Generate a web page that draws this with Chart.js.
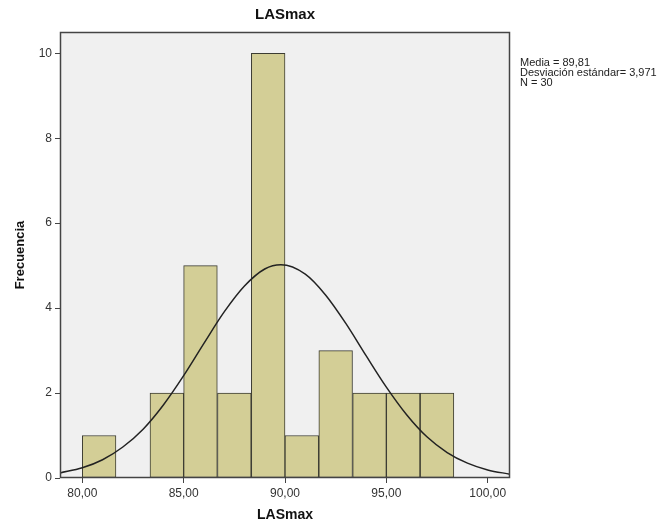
<!DOCTYPE html>
<html>
<head>
<meta charset="utf-8">
<script src="https://cdn.jsdelivr.net/npm/chart.js@4"></script>
<style>
  html, body { margin: 0; padding: 0; background: #fff; }
  #wrap { width: 663px; height: 527px; }
</style>
</head>
<body>
<div id="wrap"><canvas id="myChart" width="663" height="527"></canvas></div>
<script>
// bin centers (width 5/3) and counts
var binCenters = [80.83, 82.50, 84.17, 85.83, 87.50, 89.17, 90.83, 92.50, 94.17, 95.83, 97.50];
var binCounts = [1, 0, 2, 5, 2, 10, 1, 3, 2, 2, 2];

// normal curve
var curveX = [78.9, 80, 81, 82, 83, 84, 85, 86, 87, 88, 89, 89.8, 91, 92, 93, 94, 95, 96, 97, 98, 99, 100, 101.1];
var curveY = [0.12, 0.24, 0.43, 0.73, 1.15, 1.72, 2.41, 3.17, 3.91, 4.52, 4.92, 5.02, 4.80, 4.31, 3.64, 2.88, 2.14, 1.49, 0.97, 0.60, 0.35, 0.19, 0.09];

var statLines = ['Media = 89,81', 'Desviación estándar= 3,971', 'N = 30'];

var xTicks = [80, 85, 90, 95, 100];
var yTicks = [0, 2, 4, 6, 8, 10];

var histData = binCenters.map(function (x, i) { return { x: x, y: binCounts[i] }; });
var curveData = curveX.map(function (x, i) { return { x: x, y: curveY[i] }; });

Chart.defaults.font.family = 'Arial, "Liberation Sans", sans-serif';
Chart.defaults.color = '#333';

// gray plot background + frame, and stats text on the right
var plotFrame = {
    id: 'plotFrame',
    beforeDatasetsDraw: function (chart) {
        var a = chart.chartArea, c = chart.ctx;
        c.save();
        c.fillStyle = '#f0f0f0';
        c.fillRect(a.left, a.top, a.right - a.left, a.bottom - a.top);
        c.restore();
    },
    afterDraw: function (chart) {
        var a = chart.chartArea, c = chart.ctx;
        c.save();
        c.strokeStyle = '#444';
        c.lineWidth = 1.5;
        c.strokeRect(a.left + 0.5, a.top + 0.5, a.right - a.left - 1, a.bottom - a.top - 1);
        c.fillStyle = '#222';
        c.font = '11px Arial, "Liberation Sans", sans-serif';
        c.textBaseline = 'middle';
        statLines.forEach(function (t, i) {
            c.fillText(t, a.right + 10, 63 + i * 10);
        });
        c.restore();
    }
};

var ctx = document.getElementById('myChart').getContext('2d');
var chart = new Chart(ctx, {
    type: 'bar',
    data: {
        datasets: [{
            type: 'line',
            data: curveData,
            borderColor: '#222',
            borderWidth: 1.5,
            pointRadius: 0,
            cubicInterpolationMode: 'monotone',
            fill: false,
            order: 0
        }, {
            type: 'bar',
            data: histData,
            backgroundColor: 'rgb(211, 206, 150)',
            borderColor: 'rgb(60, 60, 50)',
            borderWidth: 1,
            borderSkipped: false,
            barPercentage: 1,
            categoryPercentage: 1,
            order: 1
        }]
    },
    options: {
        responsive: false,
        animation: false,
        layout: { padding: { right: 153, left: 0, top: 0, bottom: 0 } },
        plugins: {
            legend: { display: false },
            tooltip: { enabled: false },
            title: {
                display: true,
                text: 'LASmax',
                fullSize: false,
                color: '#111',
                font: { size: 15, weight: 'bold' },
                padding: { top: 6, bottom: 8 }
            }
        },
        scales: {
            x: {
                type: 'linear',
                min: 78.9,
                max: 101.1,
                offset: false,
                afterFit: function (s) { s.height = 49; },
                afterBuildTicks: function (s) {
                    s.ticks = xTicks.map(function (v) { return { value: v }; });
                },
                grid: { display: true, offset: false, drawOnChartArea: false, tickLength: 5, color: '#444' },
                border: { display: false },
                ticks: {
                    padding: 3,
                    font: { size: 12 },
                    color: '#333',
                    maxRotation: 0,
                    callback: function (v) { return v.toFixed(2).replace('.', ','); }
                },
                title: {
                    display: true,
                    text: 'LASmax',
                    color: '#111',
                    font: { size: 14, weight: 'bold' },
                    padding: { top: 4, bottom: 3 }
                }
            },
            y: {
                min: 0,
                max: 10.5,
                afterFit: function (s) { s.width = 60; },
                afterBuildTicks: function (s) {
                    s.ticks = yTicks.map(function (v) { return { value: v }; });
                },
                grid: { display: true, drawOnChartArea: false, tickLength: 5, color: '#444' },
                border: { display: false },
                ticks: { padding: 3, font: { size: 12 }, color: '#333' },
                title: {
                    display: true,
                    text: 'Frecuencia',
                    color: '#111',
                    font: { size: 13, weight: 'bold' },
                    padding: { top: 13, bottom: 0 }
                }
            }
        }
    },
    plugins: [plotFrame]
});
</script>
</body>
</html>
